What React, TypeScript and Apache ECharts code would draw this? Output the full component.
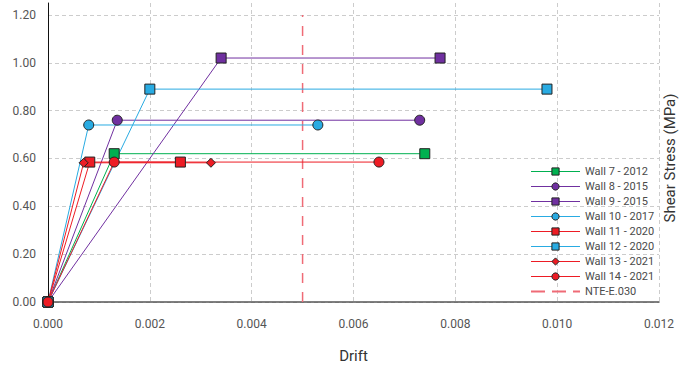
import React, { useEffect, useRef } from "react";
import * as echarts from "echarts";

// ---- data ----
const seriesNames = [
  "Wall 7 - 2012",
  "Wall 8 - 2015",
  "Wall 9 - 2015",
  "Wall 10 - 2017",
  "Wall 11 - 2020",
  "Wall 12 - 2020",
  "Wall 13 - 2021",
  "Wall 14 - 2021",
];
const driftValues = [
  [0, 0.0013, 0.0074],
  [0, 0.00136, 0.0073],
  [0, 0.0034, 0.0077],
  [0, 0.0008, 0.0053],
  [0, 0.00082, 0.0026],
  [0, 0.002, 0.0098],
  [0, 0.0007, 0.0032],
  [0, 0.0013, 0.0065],
];
const stressValues = [
  [0, 0.62, 0.62],
  [0, 0.76, 0.76],
  [0, 1.02, 1.02],
  [0, 0.74, 0.74],
  [0, 0.585, 0.585],
  [0, 0.89, 0.89],
  [0, 0.582, 0.582],
  [0, 0.585, 0.585],
];
const seriesColors = [
  "#00b050",
  "#7030a0",
  "#7030a0",
  "#29abe2",
  "#ed1c24",
  "#29abe2",
  "#ed1c24",
  "#ed1c24",
];
const seriesSymbols = ["rect", "circle", "rect", "circle", "rect", "rect", "diamond", "circle"];
const seriesSymbolSizes = [10, 10, 10, 10, 10, 10, 9, 10];

const limitName = "NTE-E.030";
const limitDrift = [0.005, 0.005];
const limitStress = [0, 1.2];

const xTicks = { min: 0, max: 0.012, interval: 0.002 };
const yTicks = { min: 0, max: 1.25, interval: 0.2 };

const FONT = "Roboto, 'Noto Sans', sans-serif";
const LIMIT_COLOR = "#ef6b76";

export default function App() {
  const ref = useRef<HTMLDivElement>(null);

  useEffect(() => {
    document.body.style.margin = "0";
    if (!ref.current) return;
    const chart = echarts.init(ref.current, null, { renderer: "svg" });

    const wallSeries = seriesNames.map((name, i) => ({
      name,
      type: "line",
      data: driftValues[i].map((d, j) => [d, stressValues[i][j]]),
      symbol: seriesSymbols[i],
      symbolSize: seriesSymbolSizes[i],
      showSymbol: true,
      itemStyle: { color: seriesColors[i], borderColor: "#222", borderWidth: 1 },
      lineStyle: { color: seriesColors[i], width: 1 },
      emphasis: { disabled: true },
      z: 3,
    }));

    const limitSeries = {
      name: limitName,
      type: "line",
      data: limitDrift.map((d, j) => [d, limitStress[j]]),
      symbol: "none",
      lineStyle: { color: LIMIT_COLOR, width: 1.5, type: [10, 9] },
      itemStyle: { color: LIMIT_COLOR },
      emphasis: { disabled: true },
      z: 2,
    };

    chart.setOption({
      animation: false,
      textStyle: { fontFamily: FONT },
      grid: { left: 48, right: 20, top: 3, bottom: 67, containLabel: false },
      legend: {
        data: [
          ...seriesNames.map((name, i) => ({
            name,
            lineStyle: { color: seriesColors[i], width: 1.2 },
            itemStyle: { color: seriesColors[i], borderColor: "#222", borderWidth: 1 },
          })),
          {
            name: limitName,
            itemStyle: { color: "rgba(0,0,0,0)", borderWidth: 0, opacity: 0 },
            lineStyle: { width: 2, type: [14, 7], color: LIMIT_COLOR },
          },
        ],
        orient: "vertical",
        left: 530,
        top: 166,
        itemWidth: 49,
        itemHeight: 9,
        itemGap: 4,
        selectedMode: false,
        textStyle: { fontSize: 11, color: "#4a4a4a", fontFamily: FONT, lineHeight: 11 },
        padding: 0,
      },
      xAxis: {
        type: "value",
        min: xTicks.min,
        max: xTicks.max,
        interval: xTicks.interval,
        name: "Drift",
        nameLocation: "middle",
        nameGap: 46,
        nameTextStyle: { fontSize: 15, color: "#333", fontFamily: FONT },
        axisLine: { show: true, lineStyle: { color: "#555", width: 1.5 } },
        axisTick: { show: false },
        axisLabel: {
          formatter: (v: number) => v.toFixed(3),
          fontSize: 12,
          color: "#555",
          margin: 16,
          fontFamily: FONT,
        },
        splitLine: { show: true, lineStyle: { color: "#ccc", type: [4, 3], width: 1 } },
      },
      yAxis: {
        type: "value",
        min: yTicks.min,
        max: yTicks.max,
        interval: yTicks.interval,
        axisLine: { show: true, lineStyle: { color: "#111", width: 1 } },
        axisTick: { show: false },
        axisLabel: {
          formatter: (v: number) => v.toFixed(2),
          fontSize: 12,
          color: "#555",
          margin: 12,
          fontFamily: FONT,
          showMaxLabel: false,
        },
        splitLine: {
          show: true,
          showMaxLine: false,
          lineStyle: { color: "#ccc", type: [4, 3], width: 1 },
        },
      },
      graphic: [
        {
          type: "text",
          x: 670,
          y: 158,
          rotation: Math.PI / 2,
          style: {
            text: "Shear Stress (MPa)",
            fontSize: 15,
            fontFamily: FONT,
            fill: "#333",
            align: "center",
            verticalAlign: "middle",
          },
        },
      ],
      series: [...wallSeries, limitSeries],
    });

    return () => chart.dispose();
  }, []);

  return <div ref={ref} style={{ width: 679, height: 369 }} />;
}
